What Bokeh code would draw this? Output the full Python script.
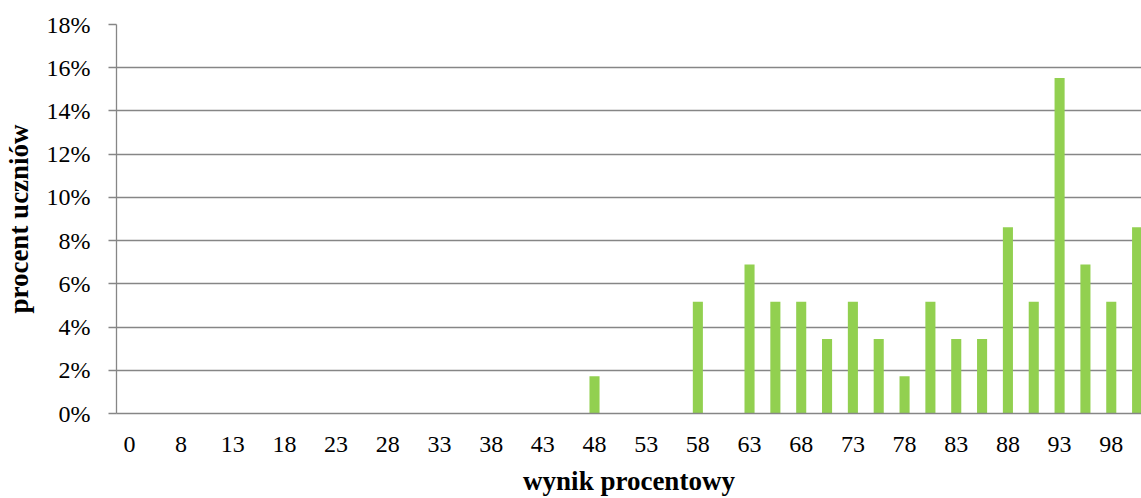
from bokeh.plotting import figure
from bokeh.models import Range1d, FixedTicker, PrintfTickFormatter, ColumnDataSource
from bokeh.embed import file_html
from bokeh.resources import INLINE

# ---- data ----
categories = ["0", "5", "8", "10", "13", "15", "18", "20", "23", "25", "28", "30", "33", "35",
              "38", "40", "43", "45", "48", "50", "53", "55", "58", "60", "63", "65", "68", "70",
              "73", "75", "78", "80", "83", "85", "88", "90", "93", "95", "98", "100"]
percent_students = [0, 0, 0, 0, 0, 0, 0, 0, 0, 0, 0, 0, 0, 0,
                    0, 0, 0, 0, 1.72, 0, 0, 0, 5.17, 0, 6.90, 5.17, 5.17, 3.45,
                    5.17, 3.45, 1.72, 5.17, 3.45, 3.45, 8.62, 5.17, 15.52, 6.90, 5.17, 8.62]
y_ticks = [0, 2, 4, 6, 8, 10, 12, 14, 16, 18]
x_title = "wynik procentowy"
y_title = "procent uczniów"

FONT = "Liberation Serif"
GRID = "#868686"

idx = list(range(len(categories)))
src = ColumnDataSource(dict(x=idx, top=percent_students))

p = figure(width=1141, height=498, output_backend="svg", toolbar_location=None,
           x_range=Range1d(-0.5, 39.17), y_range=Range1d(0, 18),
           min_border_left=115, min_border_right=0, min_border_top=24, min_border_bottom=85)
p.outline_line_color = None
p.background_fill_color = "white"
p.border_fill_color = "white"

p.vbar(x="x", top="top", width=0.39, source=src, fill_color="#92D050", line_color=None)

# y axis
ya = p.yaxis[0]
ya.ticker = FixedTicker(ticks=y_ticks)
ya.formatter = PrintfTickFormatter(format="%d%%")
ya.axis_line_color = GRID
ya.axis_line_width = 1.3
ya.major_tick_line_color = GRID
ya.major_tick_line_width = 1.3
ya.major_tick_out = 8
ya.major_tick_in = 0
ya.minor_tick_line_color = None
ya.major_label_text_font = FONT
ya.major_label_text_font_size = "24px"
ya.major_label_text_color = "black"
ya.major_label_standoff = 18
ya.axis_label = y_title
ya.axis_label_text_font = FONT
ya.axis_label_text_font_size = "27px"
ya.axis_label_text_font_style = "bold"
ya.axis_label_text_color = "black"
ya.axis_label_standoff = 10

# x axis
xa = p.xaxis[0]
xa.ticker = FixedTicker(ticks=idx[::2])
xa.major_label_overrides = {i: categories[i] for i in idx[::2]}
xa.axis_line_color = GRID
xa.axis_line_width = 1.3
xa.major_tick_line_color = None
xa.major_tick_out = 0
xa.major_tick_in = 0
xa.minor_tick_line_color = None
xa.major_label_text_font = FONT
xa.major_label_text_font_size = "24px"
xa.major_label_text_color = "black"
xa.major_label_standoff = 23
xa.axis_label = x_title
xa.axis_label_text_font = FONT
xa.axis_label_text_font_size = "27px"
xa.axis_label_text_font_style = "bold"
xa.axis_label_text_color = "black"
xa.axis_label_standoff = 11

p.xgrid.grid_line_color = None
p.ygrid.ticker = FixedTicker(ticks=y_ticks)
p.ygrid.grid_line_color = GRID
p.ygrid.grid_line_width = 1.3

open("out.html", "w").write(file_html(p, INLINE))
